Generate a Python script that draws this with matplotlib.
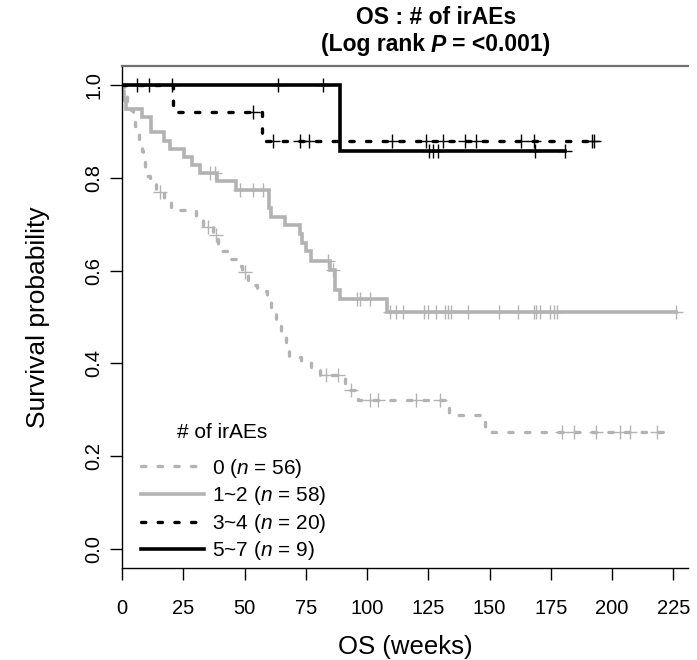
import matplotlib
matplotlib.use("Agg")
import matplotlib.pyplot as plt
from matplotlib.lines import Line2D
from matplotlib.offsetbox import TextArea, HPacker, AnchoredOffsetbox
import numpy as np

plt.rcParams['font.family'] = ['Liberation Sans', 'DejaVu Sans']
plt.rcParams['mathtext.fontset'] = 'custom'
plt.rcParams['mathtext.rm'] = 'Liberation Sans'
plt.rcParams['mathtext.it'] = 'Liberation Sans:italic'

# group "0" (n = 56)
t0 = [0, 1, 2, 3.5, 4.5, 5.3, 6.3, 7, 8, 8.5, 9.3, 10, 11.5, 14, 17, 20, 30, 33, 37, 39,
      44, 47, 49, 51.5, 55, 59, 61, 63, 65, 67, 68, 73, 77, 81, 91, 92.5, 96.5, 133.3, 148]
s0 = [1, .982, .964, .946, .929, .911, .893, .875, .857, .839, .821, .804, .786, .768, .75, .731,
      .712, .694, .676, .641, .625, .610, .596, .569, .555, .540, .515, .490, .468, .444, .415,
      .404, .390, .376, .358, .343, .322, .289, .252]
end0 = 221.5
cens0 = [15.5, 35.2, 38.5, 50.2, 83.4, 88.2, 93.5, 101.4, 104.5, 120.1, 129.7,
         179.6, 184.3, 193.3, 203.4, 207.2, 218.3]

# group "1~2" (n = 58)
t1 = [0, 0.5, 1, 1.5, 8, 12, 17, 19.6, 25.4, 28.4, 31.8, 38.6, 46.5, 60, 61, 66.5,
      72.5, 73.5, 75, 77, 85, 87, 89, 108.2]
s1 = [1, .983, .966, .948, .931, .897, .879, .862, .845, .828, .810, .792, .774, .735, .715,
      .697, .678, .660, .641, .620, .601, .558, .539, .511]
end1 = 226.2
cens1 = [35.9, 38, 48.1, 53.5, 57.6, 84.2, 86.3, 96, 97, 101.4, 109.3, 112, 114.5,
         123.1, 124.9, 128, 132, 133.1, 134.1, 141.1, 153.7, 161.6, 168, 169.1, 170.5,
         174.8, 176.2, 177.5, 226.2]

# group "3~4" (n = 20)
t2 = [0, 20.8, 57]
s2 = [1, 0.941, 0.878]
end2 = 192.6
cens2 = [6, 11, 20.3, 53.5, 61.6, 72.6, 76.3, 110, 124, 131, 139.9, 144.6, 162.7,
         168, 191.7, 192.6]

# group "5~7" (n = 9)
t3 = [0, 89]
s3 = [1, 0.857]
end3 = 181
cens3 = [63.6, 82, 125.3, 126.8, 129, 168.4, 181]

labels = [r"0 ($n$ = 56)", r"1~2 ($n$ = 58)", r"3~4 ($n$ = 20)", r"5~7 ($n$ = 9)"]
xticks = [0, 25, 50, 75, 100, 125, 150, 175, 200, 225]
yticks = [0.0, 0.2, 0.4, 0.6, 0.8, 1.0]

gray = '#b3b3b3'
dash = (1.3, 3.7)
styles = [
    dict(color=gray, lw=2.4, dashes=dash, dash_capstyle='round'),
    dict(color=gray, lw=2.6, ls='-'),
    dict(color='black', lw=2.4, dashes=dash, dash_capstyle='round'),
    dict(color='black', lw=2.6, ls='-'),
]

fig = plt.figure(figsize=(6.97, 6.60), dpi=100)
ax = fig.add_axes([122/697, 92/660, 566/697, 502/660])

groups = [(t0, s0, end0, cens0), (t1, s1, end1, cens1), (t2, s2, end2, cens2), (t3, s3, end3, cens3)]
for (t, s, end, cens), st in zip(groups, styles):
    tt = np.array(t + [end])
    ss = np.array(s + [s[-1]])
    ax.step(tt, ss, where='post', solid_joinstyle='miter', **st)
    cy = [ss[np.searchsorted(tt, c, side='right') - 1] for c in cens]
    ax.plot(cens, cy, ls='none', marker='+', ms=10, mew=1.0, color=st['color'])

ax.set_xlim(0, 231)
ax.set_ylim(-0.04, 1.04)
ax.set_xticks(xticks)
ax.set_yticks(yticks)
ax.set_yticklabels(["%.1f" % v for v in yticks], rotation=90, va='center')
ax.tick_params(axis='both', labelsize=14.5, length=8.5, width=1.0, direction='out')
ax.tick_params(axis='x', pad=14)
ax.tick_params(axis='y', pad=5)

ax.spines['right'].set_visible(False)
ax.spines['top'].set_color('#707070')
ax.spines['top'].set_linewidth(1.6)
ax.spines['left'].set_linewidth(1.0)
ax.spines['bottom'].set_linewidth(1.0)

ax.set_xlabel("OS (weeks)", fontsize=18.5, labelpad=12)
ax.set_ylabel("Survival probability", fontsize=19, labelpad=25)

handles = [Line2D([], [], **st) for st in styles]
ax.legend(handles, labels, loc='lower left', bbox_to_anchor=(0.034, 0.011),
          frameon=False, fontsize=15, handlelength=3.0, handletextpad=0.42,
          labelspacing=0.22, borderpad=0, borderaxespad=0)
ax.text(0.097, 0.269, "# of irAEs", transform=ax.transAxes, fontsize=15,
        ha='left', va='center')

fig.text(0.625, 1 - 18/660, "OS : # of irAEs", ha='center', va='center',
         fontsize=16.5, fontweight='bold')
parts = [TextArea("(Log rank", textprops=dict(fontsize=16.5, fontweight='bold')),
         TextArea("P", textprops=dict(fontsize=16.5, fontweight='bold', style='italic')),
         TextArea("= <0.001)", textprops=dict(fontsize=16.5, fontweight='bold'))]
box = HPacker(children=parts, align='baseline', pad=0, sep=4.5)
anch = AnchoredOffsetbox(loc='center', child=box, bbox_to_anchor=(0.625, 1 - 45/660),
                         bbox_transform=fig.transFigure, frameon=False, pad=0, borderpad=0)
fig.add_artist(anch)

fig.savefig("out.png", dpi=100)
